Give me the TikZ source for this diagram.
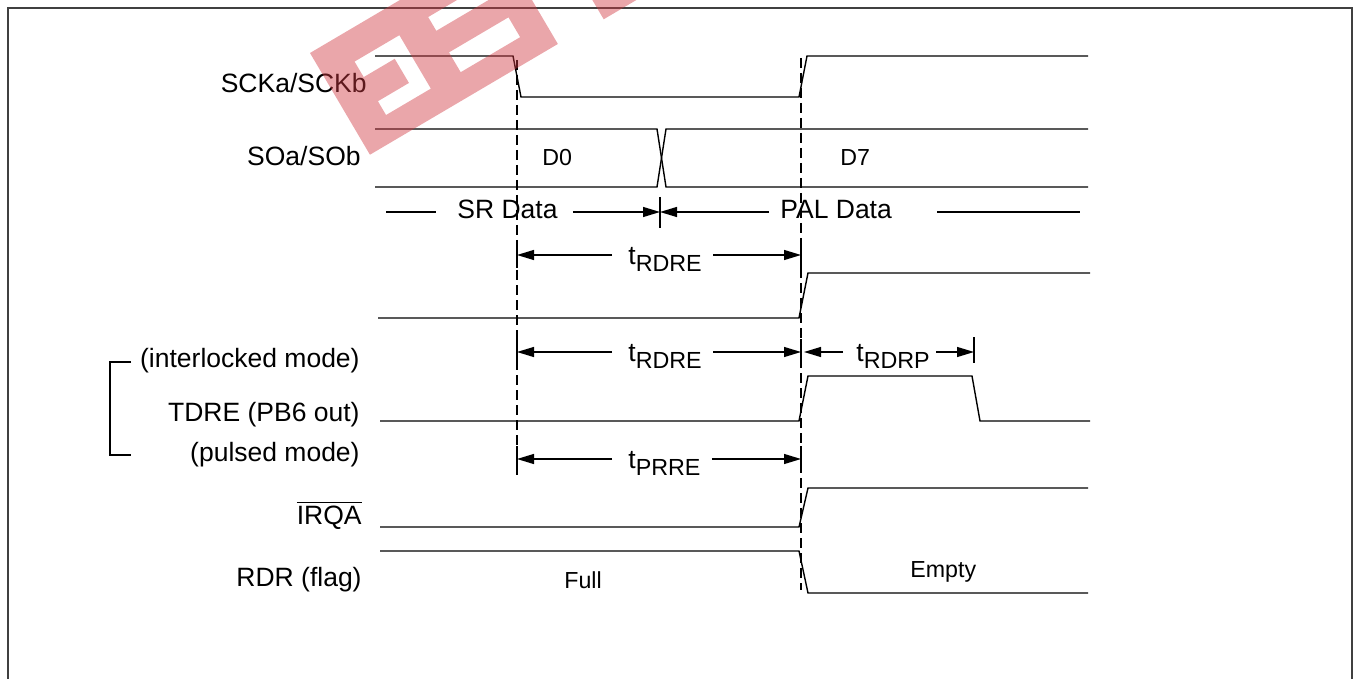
\documentclass[tikz,border=0pt]{standalone}
\usepackage{fontspec}
\setmainfont{Liberation Sans}
\usetikzlibrary{arrows.meta}
\definecolor{wmred}{RGB}{208,57,66}
\begin{document}
\begin{tikzpicture}[x=0.5pt,y=-0.5pt,
  sig/.style={line width=0.7pt},
  guide/.style={line width=0.65pt, dash pattern=on 5pt off 2.5pt},
  tickline/.style={line width=0.6pt},
  dim/.style={line width=0.6pt,-{Triangle[length=8.5pt,width=5pt]}},
  lbl/.style={font=\fontsize{13.25}{15}\selectfont, inner sep=0pt},
  small/.style={font=\fontsize{11.6}{13}\selectfont, inner sep=0pt},
  framel/.style={line width=0.6pt, draw=black!75},
  wm/.style={fill=wmred, fill opacity=0.45}]
\useasboundingbox (0,0) rectangle (1359,679);

% frame
\draw[framel] (8,679) -- (8,8) -- (1352,8) -- (1352,679);

% signal labels
\node[lbl, anchor=base east] (sck) at (367,93) {SCKa/SCKb};
\node[lbl, anchor=base east] (so) at (361,166) {SOa/SOb};
\node[lbl, anchor=base east] (ilk) at (360,367) {(interlocked mode)};
\node[lbl, anchor=base east] (tdre) at (360,421) {TDRE (PB6 out)};
\node[lbl, anchor=base east] (pls) at (360,461) {(pulsed mode)};
\node[lbl, anchor=base east] (irqa) at (362,524) {$\overline{\mbox{IRQA}}$};
\node[lbl, anchor=base east] (rdr) at (362,586) {RDR (flag)};

% bracket
\draw[tickline] (131,362) -- (110,362) -- (110,455) -- (131,455);

% guide lines
\draw[guide] (517,60) -- (517,478);
\draw[guide] (801,58) -- (801,590);
\foreach \yy in {255,352,459}{
  \draw[tickline] (517,\yy-13) -- (517,\yy+13);
  \draw[tickline] (801,\yy-13) -- (801,\yy+13);
}

% waveforms
\draw[sig] (375,56) -- (513,56) -- (521,97) -- (799,97) -- (807,56) -- (1088,56);
\draw[sig] (375,129) -- (657,129) -- (666,187) -- (1088,187);
\draw[sig] (375,187) -- (657,187) -- (666,129) -- (1088,129);
\draw[sig] (378,318) -- (799,318) -- (808,273) -- (1090,273);
\draw[sig] (380,421) -- (799,421) -- (808,376) -- (972,376) -- (980,421) -- (1090,421);
\draw[sig] (380,527) -- (799,527) -- (808,488) -- (1088,488);
\draw[sig] (380,551) -- (799,551) -- (808,593) -- (1088,593);

% data labels
\node[small, anchor=base west] (d0) at (542,166) {D0};
\node[small, anchor=base west] (d7) at (840,166) {D7};
\node[small, anchor=base west] (full) at (564,588) {Full};
\node[small, anchor=base west] (empty) at (910,577) {Empty};

% SR / PAL data row
\coordinate (mid) at (660,212);
\node[lbl, anchor=base west] (srd) at (457,219) {SR Data};
\node[lbl, anchor=base west] (pald) at (780,219) {PAL Data};
\draw[tickline] (386,212) -- ([xshift=-10.5pt]srd.west |- mid);
\draw[dim] ([xshift=7.5pt]srd.east |- mid) -- (mid);
\draw[dim] ([xshift=-5.5pt]pald.west |- mid) -- (mid);
\draw[tickline] ([xshift=22.5pt]pald.east |- mid) -- (1080,212);
\draw[tickline] (660,197) -- (660,228);

% t_RDRE (1)
\coordinate (a1l) at (517,255);
\coordinate (a1r) at (801,255);
\node[lbl, anchor=base west] (t1) at (628,264) {t\raisebox{-3.75pt}{\fontsize{11.65}{12}\selectfont RDRE}};
\draw[dim] ([xshift=-8pt]t1.west |- a1l) -- (a1l);
\draw[dim] ([xshift=5.5pt]t1.east |- a1r) -- (a1r);

% t_RDRE (2)
\coordinate (a2l) at (517,352);
\coordinate (a2r) at (801,352);
\node[lbl, anchor=base west] (t2) at (628,361) {t\raisebox{-3.75pt}{\fontsize{11.65}{12}\selectfont RDRE}};
\draw[dim] ([xshift=-8pt]t2.west |- a2l) -- (a2l);
\draw[dim] ([xshift=5.5pt]t2.east |- a2r) -- (a2r);

% t_RDRP
\coordinate (a3l) at (804,352);
\coordinate (a3r) at (974,352);
\node[lbl, anchor=base west] (t3) at (856,361) {t\raisebox{-3.75pt}{\fontsize{11.65}{12}\selectfont RDRP}};
\draw[dim] ([xshift=-6.5pt]t3.west |- a3l) -- (a3l);
\draw[dim] ([xshift=3pt]t3.east |- a3r) -- (a3r);
\draw[tickline] (974,337) -- (974,363);

% t_PRRE
\coordinate (a4l) at (517,459);
\coordinate (a4r) at (801,459);
\node[lbl, anchor=base west] (t4) at (628,468) {t\raisebox{-3.75pt}{\fontsize{11.65}{12}\selectfont PRRE}};
\draw[dim] ([xshift=-8pt]t4.west |- a4l) -- (a4l);
\draw[dim] ([xshift=5.5pt]t4.east |- a4r) -- (a4r);

% watermark
\begin{scope}[shift={(310,53)},x={(0.431pt,0.254pt)},y={(0.254pt,-0.431pt)}]
\fill[wm, even odd rule] (0,0) -- (218,0) -- (218,118) -- (0,118) -- cycle
  (34,30) -- (86,30) -- (86,92) -- (34,92) -- (34,76) -- (70,76) -- (70,48) -- (34,48) -- cycle
  (120,70) -- (189,70) -- (189,93) -- (120,93) -- cycle
  (120,29) -- (200,29) -- (200,45) -- (120,45) -- cycle
  (270,0) -- (340,0) -- (340,120) -- (270,120) -- cycle;
\end{scope}
\end{tikzpicture}
\end{document}
